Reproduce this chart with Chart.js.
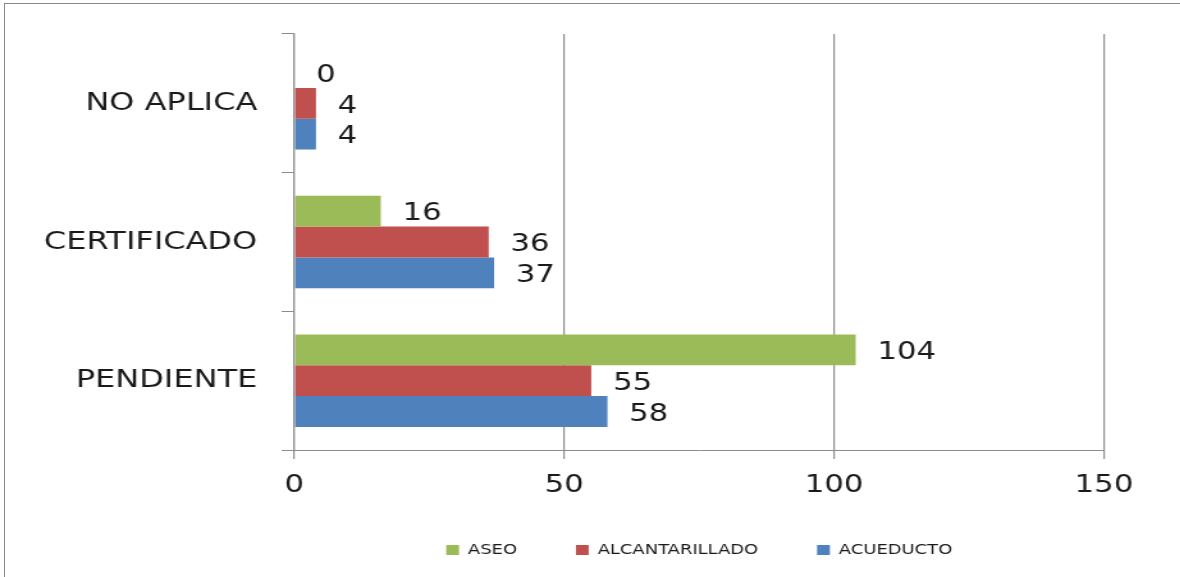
<!DOCTYPE html>
<html>
<head>
<meta charset="utf-8">
<script src="https://cdn.jsdelivr.net/npm/chart.js@4.4.1/dist/chart.umd.min.js"></script>
<style>
    html, body { margin: 0; padding: 0; background: #fff; overflow: hidden; }
    .frame {
        position: absolute; left: 4px; top: 3px; width: 1200px; height: 600px;
        border-top: 1.5px solid #8a8a8a; border-left: 1.5px solid #8a8a8a;
    }
    /* the source picture is stretched sideways, so the chart is drawn narrow and widened */
    .stretch {
        position: absolute; left: 0; top: 0; width: 922px; height: 577px;
        transform: scaleX(1.28); transform-origin: 0 0;
    }
</style>
</head>
<body>
<div class="frame"></div>
<div class="stretch">
    <canvas id="chart" width="922" height="577"></canvas>
</div>
<script>
    const categories = ['NO APLICA', 'CERTIFICADO', 'PENDIENTE'];
    const aseo = [0, 16, 104];
    const alcantarillado = [4, 36, 55];
    const acueducto = [4, 37, 58];
    const xTicks = [0, 50, 100, 150];

    const gridGray = '#8c8c8c';
    const textColor = '#1a1a1a';

    // draws the value next to each bar end
    const valueLabels = {
        id: 'valueLabels',
        afterDatasetsDraw(chart) {
            const ctx = chart.ctx;
            ctx.save();
            ctx.font = '24px "DejaVu Sans"';
            ctx.fillStyle = textColor;
            ctx.textAlign = 'left';
            ctx.textBaseline = 'middle';
            chart.data.datasets.forEach((ds, i) => {
                chart.getDatasetMeta(i).data.forEach((bar, j) => {
                    ctx.fillText(String(ds.data[j]), bar.x + 17, bar.y + 3);
                });
            });
            ctx.restore();
        }
    };

    const ctx = document.getElementById('chart').getContext('2d');
    new Chart(ctx, {
        type: 'bar',
        data: {
            labels: categories,
            datasets: [
                { label: 'ASEO', data: aseo, backgroundColor: '#9BBB59' },
                { label: 'ALCANTARILLADO', data: alcantarillado, backgroundColor: '#C0504D' },
                { label: 'ACUEDUCTO', data: acueducto, backgroundColor: '#4F81BD' },
            ],
        },
        options: {
            indexAxis: 'y',
            responsive: false,
            animation: false,
            categoryPercentage: 0.667,
            barPercentage: 1,
            layout: { padding: { left: 0, right: 59.5, top: 33, bottom: 10 } },
            plugins: {
                tooltip: { enabled: false },
                legend: {
                    position: 'bottom',
                    fullSize: false,
                    labels: {
                        boxWidth: 10,
                        boxHeight: 10,
                        padding: 46,
                        color: textColor,
                        font: { family: '"DejaVu Sans"', size: 14 },
                    },
                },
            },
            scales: {
                x: {
                    min: xTicks[0],
                    max: xTicks[xTicks.length - 1],
                    afterBuildTicks: (scale) => { scale.ticks = xTicks.map(v => ({ value: v })); },
                    afterFit: (scale) => { scale.height = 47; },
                    grid: { color: gridGray, lineWidth: 1.2, tickLength: 9 },
                    border: { color: gridGray, width: 1 },
                    ticks: {
                        padding: 12,
                        color: textColor,
                        font: { family: '"DejaVu Sans"', size: 24 },
                    },
                },
                y: {
                    afterFit: (scale) => { scale.width = 230; },
                    grid: { drawOnChartArea: false, offset: true, color: gridGray, tickLength: 10 },
                    border: { color: gridGray, width: 1.2 },
                    ticks: {
                        padding: 19,
                        color: textColor,
                        font: { family: '"DejaVu Sans"', size: 25 },
                    },
                },
            },
        },
        plugins: [valueLabels],
    });
</script>
</body>
</html>
